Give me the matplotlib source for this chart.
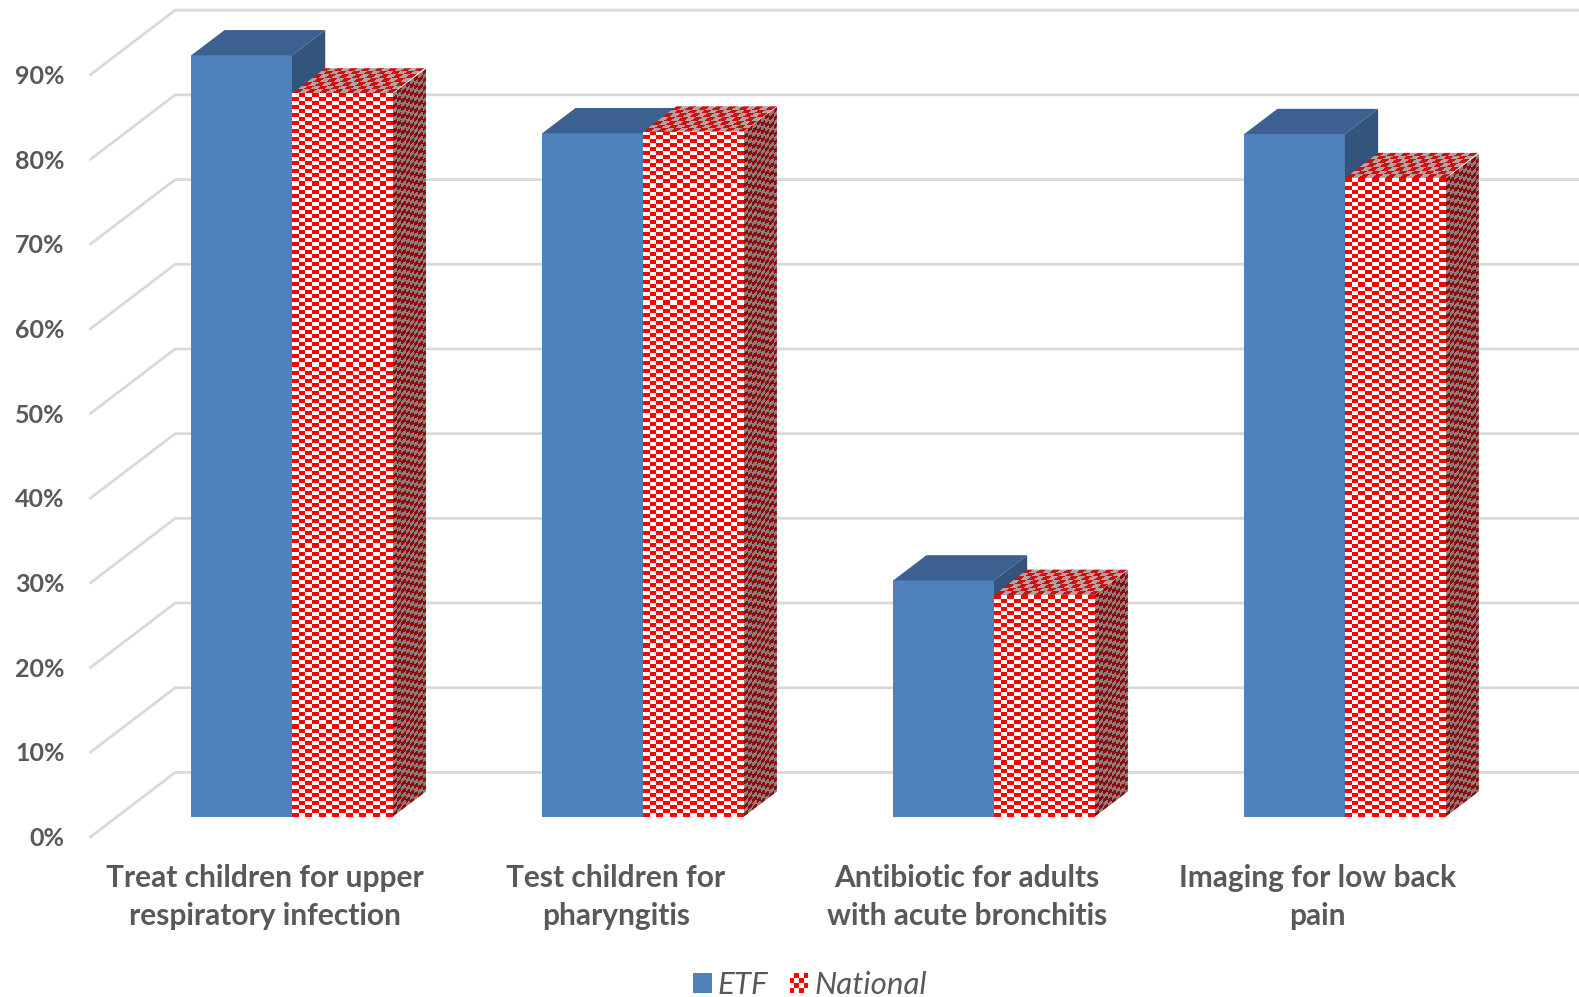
import matplotlib
matplotlib.use('Agg')
import matplotlib.pyplot as plt
import numpy as np
from matplotlib.colors import ListedColormap
from matplotlib.legend_handler import HandlerBase
from matplotlib.patches import Patch, Polygon, Rectangle
from matplotlib.transforms import Affine2D

categories = ['Treat children for upper\nrespiratory infection',
              'Test children for\npharyngitis',
              'Antibiotic for adults\nwith acute bronchitis',
              'Imaging for low back\npain']
etf = [89.9, 80.7, 27.9, 80.6]
national = [85.4, 80.9, 26.2, 75.4]
y_ticks = [0, 10, 20, 30, 40, 50, 60, 70, 80, 90]

BAR_W = 0.287
DX, DY = 0.0947, 2.98       # bar depth in data units
WALL_X0, WALL_X1 = -0.574, -0.333
WALL_Y0, WALL_Y1 = -2.38, 5.23
GREY = '#595959'
plt.rcParams['font.family'] = ['Lato', 'DejaVu Sans']


def checker_face(ax, origin, u, v, nx, ny, c1, c2, z):
    """Checker pattern on the parallelogram origin + s*u + t*v"""
    yy, xx = np.mgrid[0:ny, 0:nx]
    img = (xx + yy) % 2
    im = ax.imshow(img, extent=(0, 1, 0, 1), origin='lower', aspect='auto',
                   cmap=ListedColormap([c1, c2]), vmin=0, vmax=1,
                   interpolation='nearest', zorder=z)
    tr = Affine2D.from_values(u[0], u[1], v[0], v[1], origin[0], origin[1])
    im.set_transform(tr + ax.transData)
    o = np.array(origin)
    u, v = np.array(u), np.array(v)
    # nearest drawing spills a little past the face, so clip to it
    clip = Polygon([o, o + u, o + u + v, o + v], transform=ax.transData)
    im.set_clip_path(clip)


class CheckerHandler(HandlerBase):
    def create_artists(self, legend, orig, xd, yd, w, h, fs, trans):
        out = []
        n = 4
        for i in range(n):
            for j in range(n):
                col = 'red' if (i + j) % 2 == 0 else 'white'
                out.append(Rectangle((-xd + i * w / n, -yd + j * h / n), w / n, h / n,
                                     facecolor=col, edgecolor='none', transform=trans))
        return out


fig = plt.figure(figsize=(15.79, 9.97), dpi=100)
ax = fig.add_axes([0, 0, 1, 1])
x = np.arange(len(categories))

ax.set_xlim(-0.832, 3.667)
ax.set_ylim(-21.28, 96.43)

# gridlines on floor side wall and back wall
for t in y_ticks:
    ax.plot([WALL_X0, WALL_X1, 3.667], [WALL_Y0 + t, WALL_Y1 + t, WALL_Y1 + t],
            color='#d9d9d9', lw=2, zorder=1)
    ax.text(-0.648, WALL_Y0 + t - 0.2, f'{t}%', ha='right', va='center', fontsize=18,
            fontweight='bold', color=GREY)

# ETF bars
ax.bar(x - BAR_W / 2, etf, BAR_W, color='#4f81bd', zorder=3)
for xi, h in zip(x, etf):
    ax.add_patch(Polygon([(xi - BAR_W, h), (xi, h), (xi + DX, h + DY), (xi - BAR_W + DX, h + DY)],
                         facecolor='#3c6090', edgecolor='none', zorder=3))
    ax.add_patch(Polygon([(xi, 0), (xi + DX, DY), (xi + DX, h + DY), (xi, h)],
                         facecolor='#33547c', edgecolor='none', zorder=3))

# National bars, checker faces go over the bar
ax.bar(x + BAR_W / 2, national, BAR_W, color='white', zorder=4)
for xi, h in zip(x, national):
    ny = max(2, int(round(h * 8.41 / 4.0)))
    checker_face(ax, (xi, 0), (BAR_W, 0), (0, h), 15, ny, 'red', 'white', 5)
    checker_face(ax, (xi + BAR_W, 0), (DX, DY), (0, h), 8, ny, '#8c0c0c', '#8f7d7d', 5)
    checker_face(ax, (xi, h), (BAR_W, 0), (DX, DY), 15, 7, '#c41414', '#b9a0a0', 5)

for xi, lab in zip(x, categories):
    ax.text(xi - 0.0775, -9.45, lab, ha='center', va='center', fontsize=21.5,
            fontweight='bold', color=GREY, linespacing=1.44)

handles = [Patch(facecolor='#4f81bd', label='ETF'), Patch(facecolor='red', label='National')]
ax.legend(handles=handles, handler_map={handles[1]: CheckerHandler()},
          loc='center', bbox_to_anchor=(0.513, 0.012), ncol=2, frameon=False,
          prop={'size': 22.5, 'style': 'italic'}, labelcolor=GREY,
          handlelength=0.6, handleheight=0.6, handletextpad=0.19, columnspacing=0.68,
          borderpad=0, borderaxespad=0)

ax.axis('off')
fig.savefig('out.png', dpi=100)
